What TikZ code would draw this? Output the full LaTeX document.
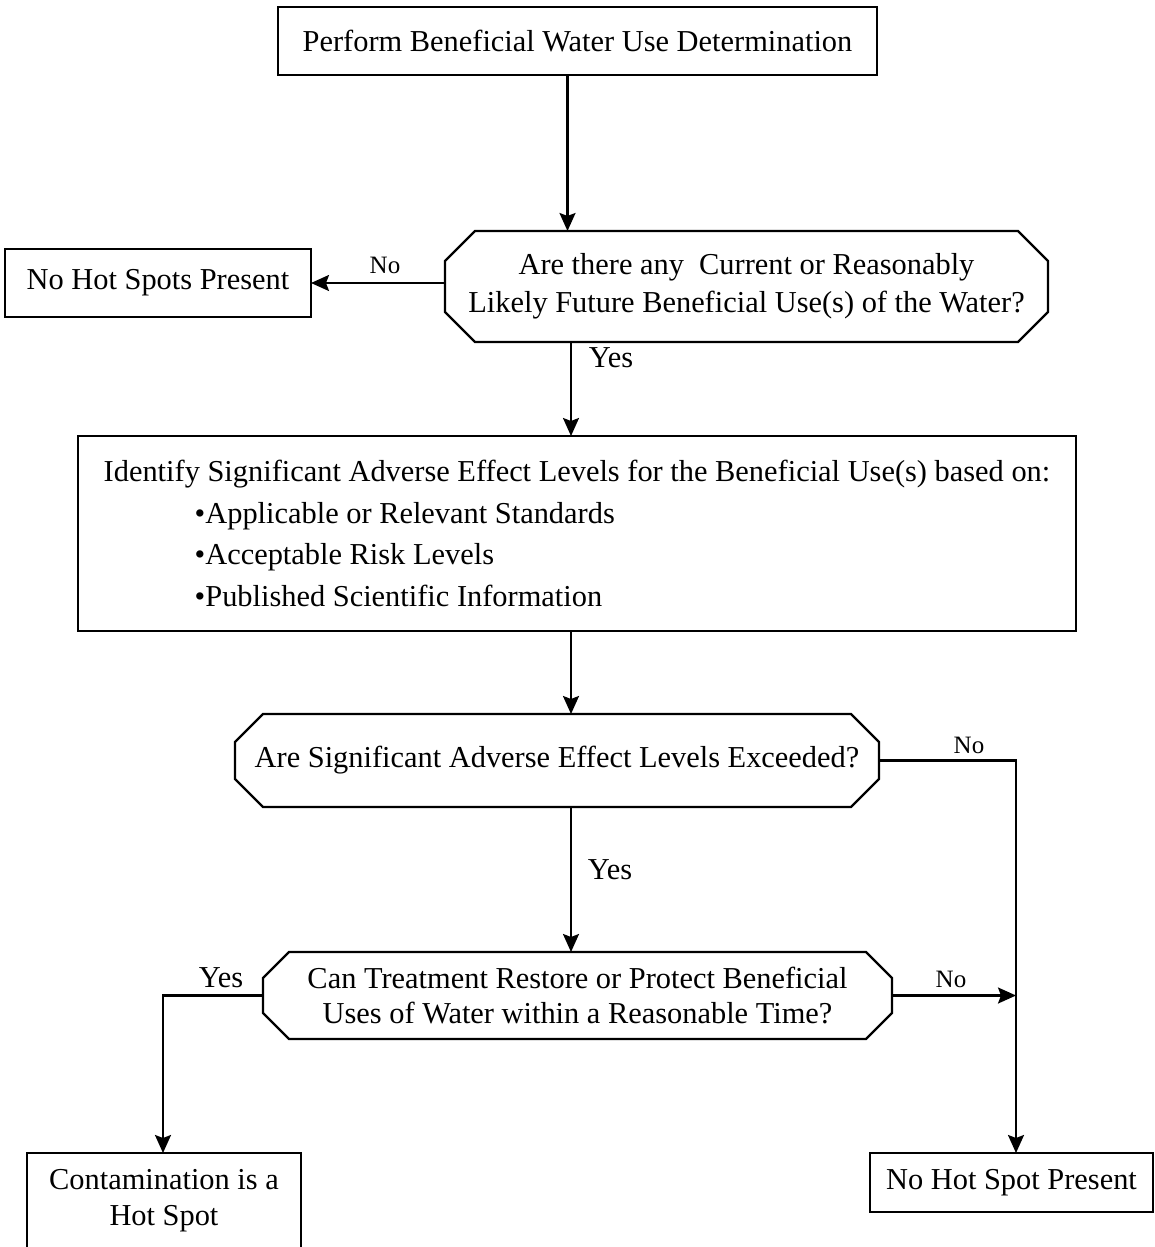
\documentclass[tikz,border=0pt]{standalone}
\usepackage{fontspec}
\setmainfont{Liberation Serif}
\usetikzlibrary{arrows.meta}
\newcommand\mainsz{\fontsize{15.2pt}{18pt}\selectfont}
\newcommand\smallsz{\fontsize{12.5pt}{15pt}\selectfont}
\newcommand\octdraw[2]{%
  \draw[line] ([xshift=#2]#1.north west) -- ([xshift=-#2]#1.north east)
    -- ([yshift=-#2]#1.north east) -- ([yshift=#2]#1.south east)
    -- ([xshift=-#2]#1.south east) -- ([xshift=#2]#1.south west)
    -- ([yshift=#2]#1.south west) -- ([yshift=-#2]#1.north west) -- cycle;}
\tikzset{
  box/.style={draw, line width=1.1pt, outer sep=0pt, inner sep=0pt, align=center, font=\mainsz},
  oct/.style={draw=none, outer sep=0pt, inner sep=0pt, align=center, font=\mainsz},
  line/.style={line width=1.1pt},
  arr/.style={line width=1.1pt, -{Stealth[length=9pt,width=8pt,inset=1.5pt]}},
  lab/.style={font=\mainsz, inner sep=0pt},
  smlab/.style={font=\smallsz, inner sep=0pt},
}
\begin{document}
\begin{tikzpicture}[x=0.5pt,y=-0.5pt]
\useasboundingbox (0,0) rectangle (1155,1247);
\node[box, minimum width=299.5pt, minimum height=34pt] (top) at (577.5,41) {Perform Beneficial Water Use Determination};
\node[oct, minimum width=301.5pt, minimum height=55.5pt, font=\fontsize{15.2pt}{19pt}\selectfont] (q1) at (746.5,286.5) {Are there any\ \ Current or Reasonably\\Likely Future Beneficial Use(s) of the Water?};
\octdraw{q1}{15pt}
\node[box, minimum width=153pt, minimum height=34pt] (nh1) at (158,283) {No Hot Spots Present};
\node[box, minimum width=499pt, minimum height=97.5pt, align=left, font=\fontsize{15.2pt}{20.8pt}\selectfont] (big) at (577,533.5) {Identify Significant Adverse Effect Levels for the Beneficial Use(s) based on:\\\hspace*{45.5pt}\textbullet Applicable or Relevant Standards\\\hspace*{45.5pt}\textbullet Acceptable Risk Levels\\\hspace*{45.5pt}\textbullet Published Scientific Information};
\node[oct, minimum width=322pt, minimum height=46.5pt] (q2) at (557,760.5) {Are Significant Adverse Effect Levels Exceeded?};
\octdraw{q2}{14pt}
\node[oct, minimum width=314.5pt, minimum height=43.5pt, font=\fontsize{15.2pt}{17.5pt}\selectfont] (q3) at (577.5,995.5) {Can Treatment Restore or Protect Beneficial\\Uses of Water within a Reasonable Time?};
\octdraw{q3}{13pt}
\node[box, minimum width=137pt, minimum height=48pt] (hs) at (164,1201) {Contamination is a\\Hot Spot};
\node[box, minimum width=141.5pt, minimum height=29.5pt] (nh2) at (1011.5,1182.5) {No Hot Spot Present};
\coordinate (cx) at (571,0);
\coordinate (rx) at (1016,0);
\coordinate (lx) at (163,0);
\draw[arr] ([xshift=-5pt]top.south) -- ([xshift=-5pt]top.south |- q1.north);
\draw[arr] (nh1.east -| q1.west) -- (nh1.east);
\node[smlab] at (385,265) {No};
\draw[arr] (q1.south -| cx) -- (big.north -| cx);
\node[lab] at (611,358) {Yes};
\draw[arr] (big.south -| cx) -- (q2.north -| cx);
\draw[arr] (q2.east) -- (q2.east -| rx) -- (nh2.north -| rx);
\node[smlab] at (969,745) {No};
\draw[arr] (q2.south -| cx) -- (q3.north -| cx);
\node[lab] at (610,870) {Yes};
\draw[arr] (q3.west) -- (q3.west -| lx) -- (hs.north -| lx);
\node[lab] at (221,978) {Yes};
\draw[arr] (q3.east) -- (q3.east -| rx);
\node[smlab] at (951,979) {No};
\end{tikzpicture}
\end{document}
